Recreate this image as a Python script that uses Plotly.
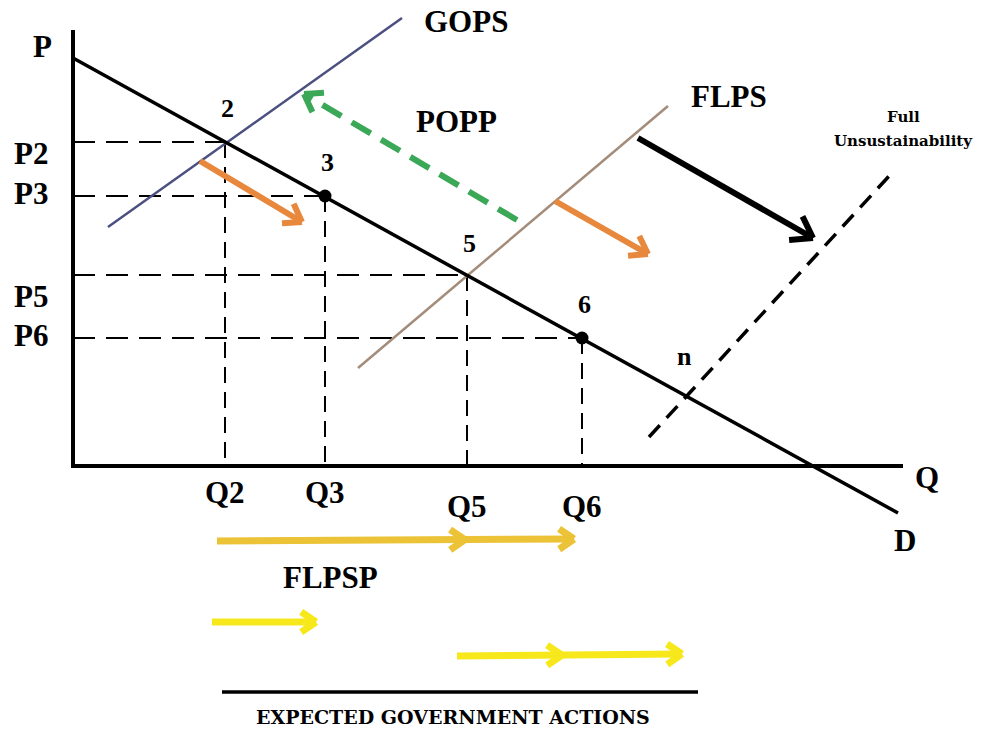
import math
import plotly.graph_objects as go

# canvas is in picture units: x to the right, y downwards
W, H = 982, 729

# axes
axis_x = [73, 73, 903]
axis_y = [30, 466, 466]

# demand curve D
d_x = [73, 898]
d_y = [58, 513]

# supply curves
gops_x = [108, 402]
gops_y = [227, 18]
flps_x = [358, 668]
flps_y = [368, 106]
unsus_x = [649, 890]
unsus_y = [437, 175]

# equilibrium points on D
pt_names = ["2", "3", "5", "6"]
pt_q = [225, 325, 467, 582]
pt_p = [142, 196, 275, 338]
dot_names = ["3", "6"]

# labels
p_labels = ["P2", "P3", "P5", "P6"]
p_label_shift = [11, -3, 21, -3]
q_labels = ["Q2", "Q3", "Q5", "Q6"]

# arrows: tail, tip, extra heads along the way
orange_arrows = [((200, 161), (302, 222)), ((555, 201), (648, 254))]
green_arrow = ((517, 220), (304, 94))
black_arrow = ((638, 138), (813, 238))
gold_arrow = ((217, 541), (574, 539), [465])
yellow_arrows = [((212, 622), (316, 622), []), ((457, 656), (682, 654), [562])]
base_line_x = [222, 698]
base_line_y = [692, 692]

SERIF = "Liberation Serif"


def chevron(tip, tail, length=20, spread=0.6):
    ang = math.atan2(tail[1] - tip[1], tail[0] - tip[0])
    xs, ys = [], []
    for s in (spread, -spread):
        xs += [tip[0] + length * math.cos(ang + s), tip[0], None]
        ys += [tip[1] + length * math.sin(ang + s), tip[1], None]
    return xs, ys


def add_arrow(fig, tail, tip, color, width, dash="solid", mids=(), hl=20):
    fig.add_trace(go.Scatter(x=[tail[0], tip[0]], y=[tail[1], tip[1]], mode="lines",
                             line=dict(color=color, width=width, dash=dash)))
    hx, hy = chevron(tip, tail, hl)
    for mx in mids:
        t = (mx - tail[0]) / (tip[0] - tail[0])
        mp = (mx, tail[1] + t * (tip[1] - tail[1]))
        cx, cy = chevron(mp, tail, hl)
        hx += cx
        hy += cy
    fig.add_trace(go.Scatter(x=hx, y=hy, mode="lines",
                             line=dict(color=color, width=width)))


fig = go.Figure()

# dashed guides
for q, p in zip(pt_q, pt_p):
    fig.add_trace(go.Scatter(x=[73, q], y=[p, p], mode="lines",
                             line=dict(color="black", width=2, dash="22px,11px")))
    fig.add_trace(go.Scatter(x=[q, q], y=[p, 466], mode="lines",
                             line=dict(color="black", width=2, dash="16px,9px")))

fig.add_trace(go.Scatter(x=gops_x, y=gops_y, mode="lines", line=dict(color="#4b5080", width=2.5)))
fig.add_trace(go.Scatter(x=flps_x, y=flps_y, mode="lines", line=dict(color="#a48c7a", width=2.5)))
fig.add_trace(go.Scatter(x=unsus_x, y=unsus_y, mode="lines",
                         line=dict(color="black", width=3.5, dash="16px,10px")))
fig.add_trace(go.Scatter(x=axis_x, y=axis_y, mode="lines", line=dict(color="black", width=4)))
fig.add_trace(go.Scatter(x=d_x, y=d_y, mode="lines", line=dict(color="black", width=3.5)))

dq = [q for q, n in zip(pt_q, pt_names) if n in dot_names]
dp = [p for p, n in zip(pt_p, pt_names) if n in dot_names]
fig.add_trace(go.Scatter(x=dq, y=dp, mode="markers", marker=dict(color="black", size=13)))

for tail, tip in orange_arrows:
    add_arrow(fig, tail, tip, "#e8883c", 6)
add_arrow(fig, green_arrow[0], green_arrow[1], "#3ba858", 6, dash="22px,12px")
add_arrow(fig, black_arrow[0], black_arrow[1], "black", 6, hl=24)
add_arrow(fig, gold_arrow[0], gold_arrow[1], "#ecc236", 7, mids=gold_arrow[2], hl=18)
for tail, tip, mids in yellow_arrows:
    add_arrow(fig, tail, tip, "#f7e81c", 7, mids=mids, hl=18)
fig.add_trace(go.Scatter(x=base_line_x, y=base_line_y, mode="lines", line=dict(color="black", width=3.5)))


def label(x, y, text, size=31, family=SERIF):
    fig.add_annotation(x=x, y=y, text="<b>%s</b>" % text, showarrow=False,
                       font=dict(family=family, size=size, color="black"))


label(42, 46, "P")
for t, p, s in zip(p_labels, pt_p, p_label_shift):
    label(31, p + s, t)
for t, q in zip(q_labels, pt_q):
    label(q, 492 if t in ("Q2", "Q3") else 506, t)
for n, q, p in zip(pt_names, pt_q, pt_p):
    label(q + 2, p - 34 if n != "5" else p - 32, n, 26)
label(684, 356, "n", 26)
label(927, 477, "Q")
label(905, 540, "D")
label(466, 21, "GOPS")
label(456, 121, "POPP")
label(729, 96, "FLPS")
label(330, 577, "FLPSP")
label(903, 117, "Full", 15, "DejaVu Serif")
label(903, 141, "Unsustainability", 15, "DejaVu Serif")
label(453, 717, "EXPECTED GOVERNMENT ACTIONS", 19, "DejaVu Serif")

fig.update_layout(width=W, height=H, margin=dict(l=0, r=0, t=0, b=0),
                  paper_bgcolor="white", plot_bgcolor="white", showlegend=False)
fig.update_xaxes(range=[0, W], visible=False)
fig.update_yaxes(range=[H, 0], visible=False)

fig.write_html("out.html", config={"displayModeBar": False},
               post_script="document.body.style.margin='0';")
